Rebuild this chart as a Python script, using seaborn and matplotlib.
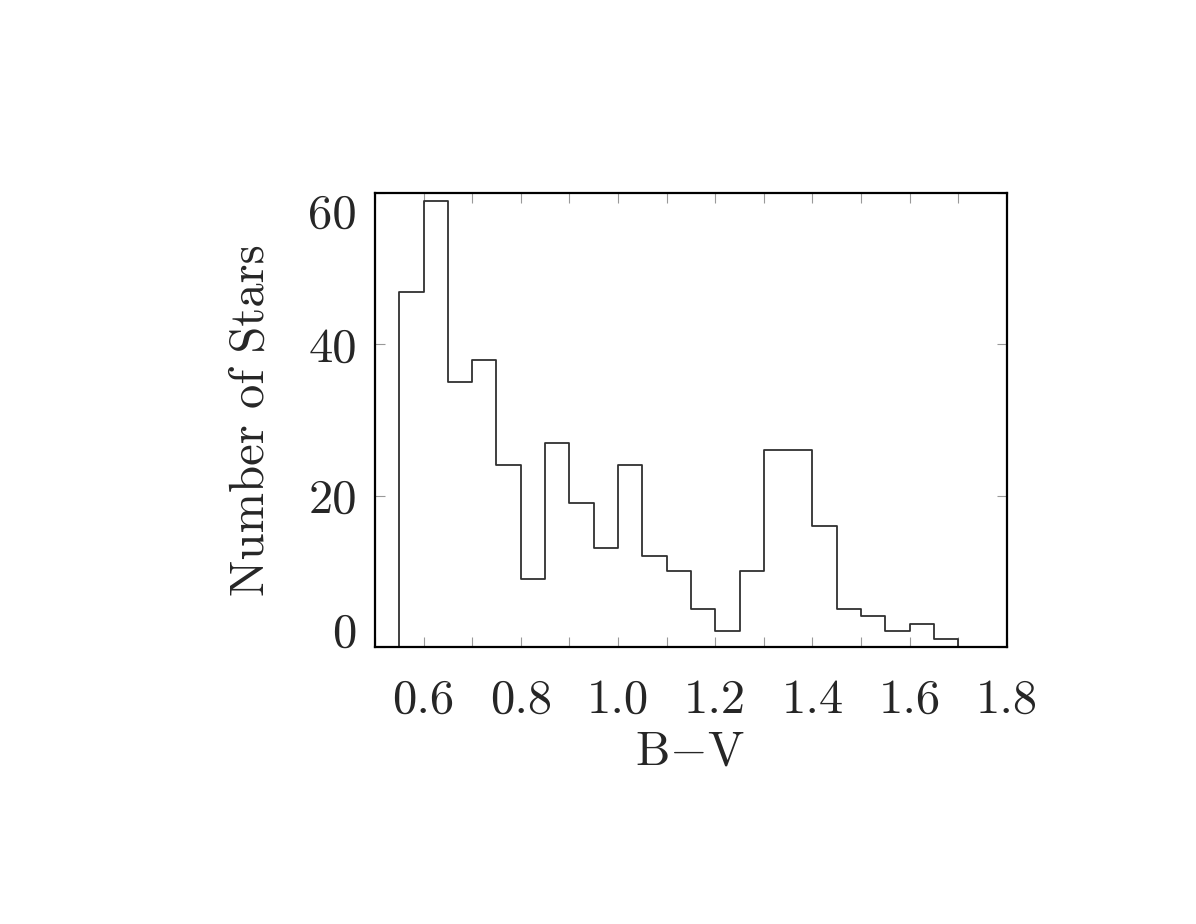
import numpy as np
import pandas as pd
import matplotlib
matplotlib.use("Agg")
import matplotlib.pyplot as plt
import seaborn as sns

# B-V colour histogram, bin edges and counts
bin_edges = [0.55, 0.60, 0.65, 0.70, 0.75, 0.80, 0.85, 0.90, 0.95, 1.00, 1.05, 1.10,
             1.15, 1.20, 1.25, 1.30, 1.35, 1.40, 1.45, 1.50, 1.55, 1.60, 1.65, 1.70]
counts = [47, 59, 35, 38, 24, 9, 27, 19, 13, 24, 12, 10,
          5, 2, 10, 26, 26, 16, 5, 4, 2, 3, 1]
x_ticks = [0.6, 0.8, 1.0, 1.2, 1.4, 1.6, 1.8]
x_minor = [0.5, 0.7, 0.9, 1.1, 1.3, 1.5, 1.7]
y_ticks = [0, 20, 40, 60]

sns.set_style("ticks")
plt.rcParams["font.family"] = ["cmr10"]
plt.rcParams["mathtext.fontset"] = "cm"
plt.rcParams["axes.formatter.use_mathtext"] = True

edges = np.array(bin_edges)
df = pd.DataFrame({"bv": (edges[:-1] + edges[1:]) / 2, "n": counts})

fig = plt.figure(figsize=(11.96, 9.24), dpi=100)
ax = fig.add_axes([0.3135, 0.3003, 0.5284, 0.4903])

# bins as a plain list (seaborn compares it against "auto");
# filled step so the outline drops to zero at both ends, then blank the fill
sns.histplot(data=df, x="bv", weights="n", bins=bin_edges, element="step", fill=True,
             color="#303030", linewidth=1.3, ax=ax)
poly = ax.collections[0]
poly.set_facecolor("none")
poly.set_edgecolor("#303030")
poly.set_alpha(1)

ax.set_xlim(0.5, 1.8)
ax.set_ylim(0, 60)
ax.set_xticks(x_ticks)
ax.set_xticks(x_minor, minor=True)
ax.set_yticks(y_ticks)
ax.set_xticklabels(["0.6", "0.8", "1.0", "1.2", "1.4", "1.6", "1.8"])
ax.set_yticklabels(["0", "20", "40", "60"])

for side in ax.spines.values():
    side.set_color("black")
    side.set_linewidth(1.6)
    side.set_zorder(3)

ax.tick_params(which="both", direction="in", top=True, right=True,
               length=7.5, width=0.8, color="#999999")
ax.tick_params(axis="x", which="major", labelsize=35, pad=23)
ax.tick_params(axis="y", which="major", labelsize=35, pad=13)

# top and bottom y labels sit inside the frame, as in the original
yt = ax.yaxis.get_major_ticks()
yt[0].label1.set_va("baseline")
yt[-1].label1.set_va("top")

ax.set_xlabel("B$-$V", fontsize=35, va="center")
ax.xaxis.set_label_coords(0.498, -0.233)
ax.set_ylabel("Number of Stars", fontsize=35, va="center")
ax.yaxis.set_label_coords(-0.195, 0.5)

fig.savefig("out.png", dpi=100)
plt.close(fig)
